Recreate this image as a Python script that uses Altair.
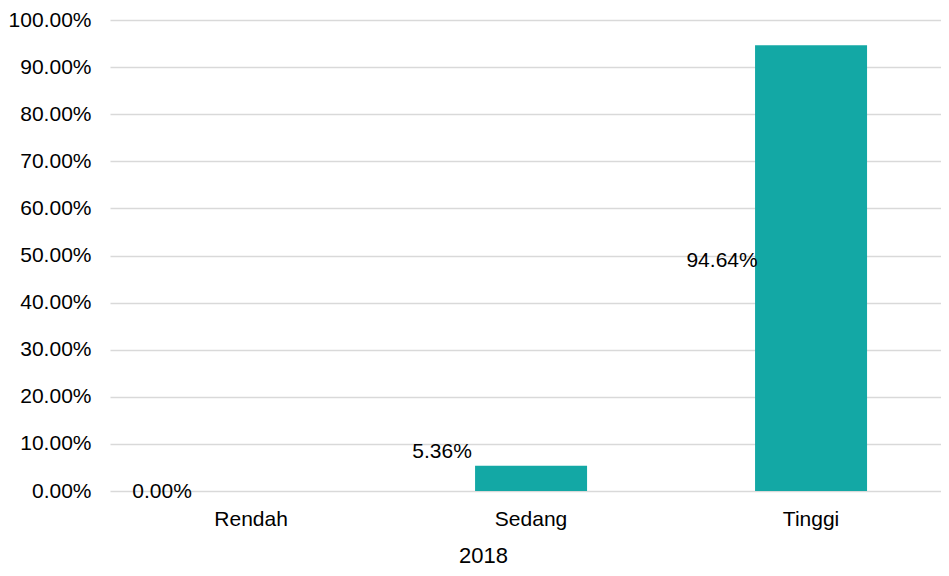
import altair as alt
import pandas as pd

categories = ["Rendah", "Sedang", "Tinggi"]
values = [0.0, 5.36, 94.64]
labels = ["0.00%", "5.36%", "94.64%"]

df = pd.DataFrame({"kategori": categories, "nilai": values, "label": labels})

FONT = "Liberation Sans"
BAR = "#13A8A5"
FS = 21

x = alt.X("kategori:N", sort=categories,
          scale=alt.Scale(paddingInner=0.6, paddingOuter=0.284, align=0.535),
          axis=alt.Axis(title="2018", labelAngle=0, labelFontSize=FS, titleFontSize=22,
                        labelFont=FONT, titleFont=FONT, labelColor="#000000",
                        titleColor="#000000", titleFontWeight="normal",
                        titleX=373, titleAlign="center",
                        domain=False, ticks=False, labelPadding=17, titlePadding=16))
y = alt.Y("nilai:Q", scale=alt.Scale(domain=[0, 100]),
          axis=alt.Axis(title=None, values=list(range(0, 101, 10)),
                        labelExpr="format(datum.value, '.2f') + '%'",
                        labelFontSize=FS, labelFont=FONT, labelColor="#000000",
                        domain=False, ticks=False, labelPadding=19,
                        grid=True, gridColor="#d9d9d9", gridWidth=1.6))

base = alt.Chart(df)
bars = base.mark_bar(color=BAR).encode(x=x, y=y)

def lab(cat, dy):
    return base.transform_filter(alt.datum.kategori == cat).mark_text(
        font=FONT, fontSize=FS, color="#000000", dx=-89, dy=dy, align="center",
        baseline="middle").encode(x=x, y=y, text="label:N")

chart = alt.layer(
    bars,
    lab("Rendah", 1),
    lab("Sedang", -14),
    lab("Tinggi", 216),
).properties(
    width=831, height=471,
    autosize=alt.AutoSizeParams(type="none"),
    padding={"left": 102, "top": 12, "right": 0, "bottom": 76},
).configure_view(stroke=None)

chart.save("out.html", embed_options={"renderer": "svg", "actions": False})
